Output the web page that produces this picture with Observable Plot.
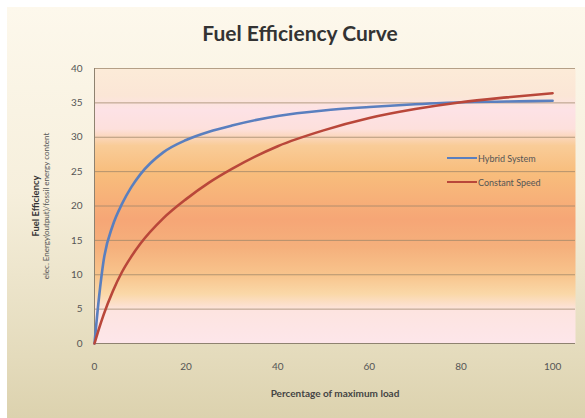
<!DOCTYPE html>
<html>
<head>
<meta charset="utf-8">
<script src="https://cdn.jsdelivr.net/npm/d3@7"></script>
<script src="https://cdn.jsdelivr.net/npm/@observablehq/plot@0.6"></script>
<style>
  html, body { margin: 0; padding: 0; background: #ffffff; }
  #wrap { position: relative; width: 585px; height: 418px; overflow: hidden; font-family: Lato, "Open Sans", sans-serif; }
  #bg { position: absolute; left: 7px; top: 7px; width: 578px; height: 411px;
        background: linear-gradient(to bottom, #fdf8ec 0%, #f6efdc 45%, #e4dbbc 85%, #dcd2ae 100%); }
  #title { position: absolute; left: 0; width: 600px; top: 20px; text-align: center;
           font-weight: 700; font-size: 21px; color: #333; }
  #chart { position: absolute; left: 0; top: 0; }
  #legend { position: absolute; left: 447px; top: 152px; font-size: 9px; color: #555; }
  #legend .item { display: flex; align-items: center; height: 12px; margin-bottom: 12px; }
  #legend svg { margin-right: 1px; }
</style>
</head>
<body>
<div id="wrap">
  <div id="bg"></div>
  <div id="title">Fuel Efficiency Curve</div>
  <div id="chart"></div>
  <div id="legend"></div>
</div>
<script>
const loads = [0, 1, 2, 4, 6, 8, 10, 15, 20, 25, 30, 40, 50, 60, 70, 80, 90, 100];
const hybridSystem = [0, 6.8, 12.1, 17.2, 20.3, 22.7, 24.6, 27.8, 29.6, 30.8, 31.7, 33.1, 33.9, 34.4, 34.8, 35.1, 35.2, 35.3];
const constantSpeed = [0, 2.2, 4.2, 7.6, 10.4, 12.6, 14.5, 18.2, 21.0, 23.4, 25.4, 28.7, 31.0, 32.8, 34.1, 35.1, 35.8, 36.4];
const seriesNames = ["Hybrid System", "Constant Speed"];
const seriesColors = ["#5a7fbf", "#b9473a"];
const xTicks = [0, 20, 40, 60, 80, 100];
const yTicks = [0, 5, 10, 15, 20, 25, 30, 35, 40];
const yTitle = ["Fuel Efficiency", "elec. Energy(output)/fossil energy content"];
const xTitle = "Percentage of maximum load";

const rows = [];
loads.forEach((x, i) => {
  rows.push({x, y: hybridSystem[i], s: seriesNames[0]});
  rows.push({x, y: constantSpeed[i], s: seriesNames[1]});
});

const chart = Plot.plot({
  width: 585,
  height: 418,
  marginLeft: 94,
  marginRight: 10,
  marginTop: 68,
  marginBottom: 75,
  style: { background: "transparent", fontFamily: "Lato, 'Open Sans', sans-serif", fontSize: "10px", color: "#555" },
  x: { domain: [0, 105], ticks: xTicks, tickSize: 0, tickPadding: 19, label: null },
  y: { domain: [0, 40], ticks: yTicks, tickSize: 0, tickPadding: 12, label: null },
  color: { domain: seriesNames, range: seriesColors },
  marks: [
    Plot.frame({ fill: "url(#plotGrad)", stroke: "none" }),
    Plot.gridY(yTicks, { stroke: "#9c8468", strokeOpacity: 0.75, strokeWidth: 1 }),
    Plot.ruleX([0], { stroke: "#8e8270", strokeWidth: 1 }),
    Plot.ruleY([0], { stroke: "#8e8270", strokeWidth: 1 }),
    Plot.line(rows, { x: "x", y: "y", stroke: "s", z: "s", strokeWidth: 2.6, curve: "monotone-x" }),
    Plot.axisX(xTicks, { tickSize: 0, tickPadding: 19, fill: "#555", fontSize: 10 }),
    Plot.axisY(yTicks, { tickSize: 0, tickPadding: 12, fill: "#555", fontSize: 10 }),
    Plot.text([yTitle[0]], { frameAnchor: "left", rotate: -90, dx: -59, text: d => d, fontWeight: "bold", fontSize: 9.5, fill: "#333", textAnchor: "middle", lineAnchor: "middle" }),
    Plot.text([yTitle[1]], { frameAnchor: "left", rotate: -90, dx: -48, text: d => d, fontSize: 8, fill: "#555", textAnchor: "middle", lineAnchor: "middle" }),
    Plot.text([xTitle], { frameAnchor: "bottom", dy: 50, text: d => d, fontWeight: "bold", fontSize: 10, fill: "#444", lineAnchor: "middle" })
  ]
});

// gradient definition for the plot-area fill
const svgNS = "http://www.w3.org/2000/svg";
const defs = document.createElementNS(svgNS, "defs");
const grad = document.createElementNS(svgNS, "linearGradient");
grad.setAttribute("id", "plotGrad");
grad.setAttribute("x1", "0"); grad.setAttribute("y1", "0");
grad.setAttribute("x2", "0"); grad.setAttribute("y2", "1");
const stops = [
  [0, "#fcebd8"], [0.1, "#fbe6d6"], [0.15, "#fde2e6"], [0.22, "#fde0dc"],
  [0.28, "#f9cc98"], [0.38, "#f8bd7c"], [0.55, "#f6a676"], [0.65, "#f5b07c"],
  [0.75, "#f8c48c"], [0.82, "#fad8a8"], [0.88, "#fde4e0"], [1, "#fde6ea"]
];
stops.forEach(([o, c]) => {
  const s = document.createElementNS(svgNS, "stop");
  s.setAttribute("offset", o);
  s.setAttribute("stop-color", c);
  grad.appendChild(s);
});
defs.appendChild(grad);
chart.insertBefore(defs, chart.firstChild);

document.getElementById("chart").appendChild(chart);

// legend
const legend = document.getElementById("legend");
seriesNames.forEach((name, i) => {
  const item = document.createElement("div");
  item.className = "item";
  item.innerHTML = `<svg width="30" height="12"><line x1="0" y1="6" x2="30" y2="6" stroke="${seriesColors[i]}" stroke-width="2"/></svg><span>${name}</span>`;
  legend.appendChild(item);
});
</script>
</body>
</html>
